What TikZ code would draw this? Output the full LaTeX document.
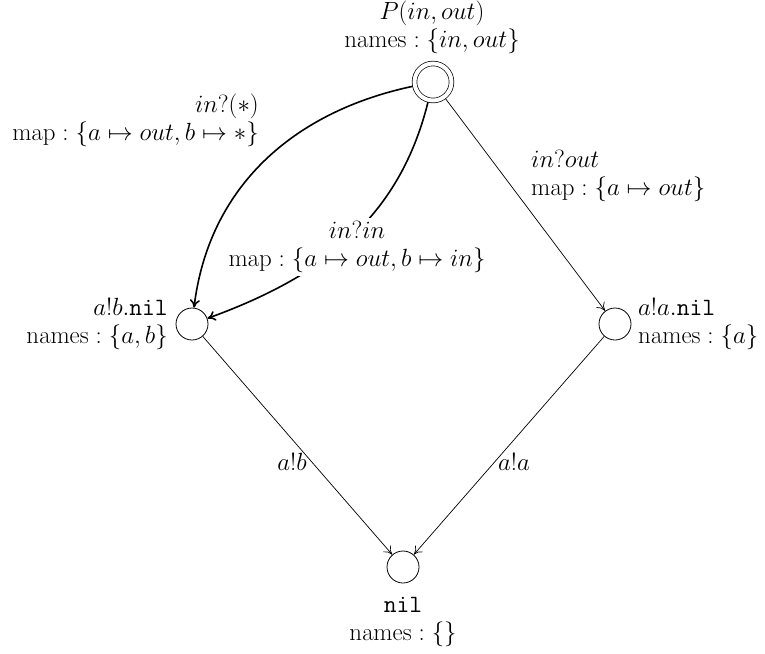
\documentclass[tikz,border=0pt]{standalone}
\usetikzlibrary{arrows.meta}
\begin{document}
\begin{tikzpicture}[x=1pt,y=1pt,
  every node/.style={font={\fontsize{24.88}{28}\selectfont}},
  state/.style={circle,draw,line width=0.8pt,minimum size=32pt,inner sep=0pt,outer sep=0.5pt},
  start/.style={circle,draw,line width=0.7pt,double,double distance=4pt,minimum size=37pt,inner sep=0pt,outer sep=2.4pt},
  lab/.style={inner sep=0pt},
  thinarrow/.style={line width=0.7pt,-{To[length=8pt,width=10pt]}},
  thickarrow/.style={line width=1.6pt,-{To[length=8pt,width=10pt]}}]
\useasboundingbox (0,0) rectangle (765,-653);
\node[start] (P) at (433,-82) {};
\node[state] (ab) at (192,-324) {};
\node[state] (aa) at (615,-324) {};
\node[state] (nil) at (403,-567) {};

\node[lab,align=center] (Plab) at (432,-27) {$P(in, out)$\\$\mathrm{names}:\{in, out\}$};
\node[lab,align=right,anchor=east] (l1) at (259,-120) {$in?(*)$\\$\mathrm{map}:\{a\mapsto out, b\mapsto *\}$};
\node[lab,align=left,anchor=west] (l2) at (531,-176) {$in?out$\\$\mathrm{map}:\{a\mapsto out\}$};
\node[lab,align=right,anchor=east] (ablab) at (168,-324) {$a!b.\mathtt{nil}$\\$\mathrm{names}:\{a, b\}$};
\node[lab,align=left,anchor=west] (aalab) at (638,-324) {$a!a.\mathtt{nil}$\\$\mathrm{names}:\{a\}$};
\node[lab,align=center] (nillab) at (403,-622) {$\mathtt{nil}$\\$\mathrm{names}:\{\}$};
\node[lab] (e1) at (292,-462) {$a!b$};
\node[lab] (e2) at (514,-462) {$a!a$};

\draw[thickarrow] (P) to[out=192,in=83] (ab);
\draw[thickarrow] (P) to[out=256,in=20] (ab);
\draw[thinarrow] (P) -- (aa);
\draw[thinarrow] (ab) -- (nil);
\draw[thinarrow] (aa) -- (nil);
\node[lab,align=center,fill=white,inner sep=3pt] (l3) at (357,-247) {$in?in$\\$\mathrm{map}:\{a\mapsto out, b\mapsto in\}$};
\end{tikzpicture}
\end{document}
